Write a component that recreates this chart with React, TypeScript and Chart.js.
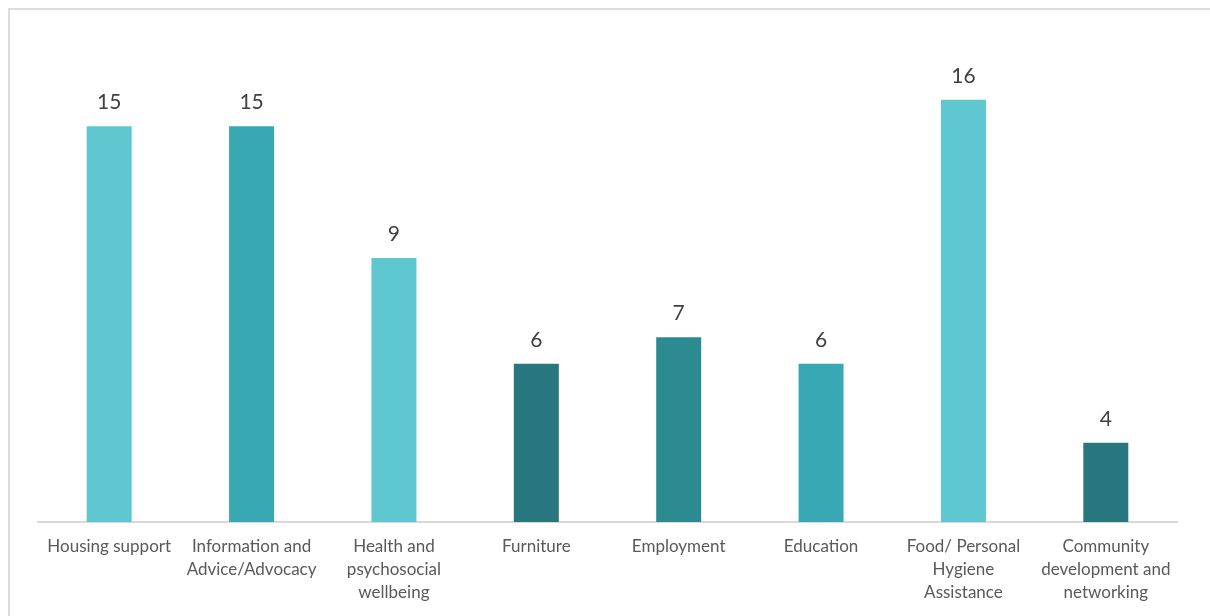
import React, { useEffect, useRef } from "react";
import { Chart, registerables } from "chart.js";

Chart.register(...registerables);

const categories: string[][] = [
  ["Housing support"],
  ["Information and", "Advice/Advocacy"],
  ["Health and", "psychosocial", "wellbeing"],
  ["Furniture"],
  ["Employment"],
  ["Education"],
  ["Food/ Personal", "Hygiene", "Assistance"],
  ["Community", "development and", "networking"],
];
// bar heights as drawn in the reference
const values: number[] = [15, 15, 10, 6, 7, 6, 16, 3];
// value labels as printed in the reference
const valueLabelTexts: string[] = ["15", "15", "9", "6", "7", "6", "16", "4"];
const barColors: string[] = [
  "#5FC7D0",
  "#38A9B4",
  "#5FC7D0",
  "#28777E",
  "#2B8B91",
  "#38A9B4",
  "#5FC7D0",
  "#28777E",
];

const FONT = "Lato, 'Open Sans', sans-serif";

const valueLabels = {
  id: "valueLabels",
  afterDatasetsDraw(chart: any) {
    const ctx = chart.ctx;
    const meta = chart.getDatasetMeta(0);
    ctx.save();
    ctx.fillStyle = "#404040";
    ctx.font = `21px ${FONT}`;
    ctx.textAlign = "center";
    ctx.textBaseline = "alphabetic";
    meta.data.forEach((bar: any, i: number) => {
      ctx.fillText(valueLabelTexts[i], bar.x, bar.y - 17);
    });
    ctx.restore();
  },
};

export default function App() {
  const ref = useRef<HTMLCanvasElement>(null);
  useEffect(() => {
    if (!ref.current) return;
    const chart = new Chart(ref.current, {
      type: "bar",
      data: {
        labels: categories,
        datasets: [
          {
            data: values,
            backgroundColor: barColors,
            borderWidth: 0,
            barPercentage: 0.316,
            categoryPercentage: 1,
          },
        ],
      },
      options: {
        animation: false,
        responsive: true,
        maintainAspectRatio: false,
        layout: { padding: { left: 38, right: 33, top: 47, bottom: 0 } },
        plugins: { legend: { display: false }, tooltip: { enabled: false } },
        scales: {
          x: {
            grid: { display: false, drawTicks: false },
            border: { display: true, color: "#D9D9D9", width: 2 },
            ticks: {
              color: "#595959",
              font: { family: FONT, size: 17, lineHeight: 1.36 },
              padding: 13,
              maxRotation: 0,
              autoSkip: false,
            },
            afterFit: (scale: any) => {
              scale.height = 94;
            },
          },
          y: {
            display: false,
            min: 0,
            max: 18,
          },
        },
      },
      plugins: [valueLabels],
    });
    return () => chart.destroy();
  }, []);

  return (
    <div style={{ position: "absolute", left: 0, top: 0, width: 1210, height: 616, overflow: "hidden", background: "#fff" }}>
      <div
        style={{
          position: "absolute",
          left: 8,
          top: 8,
          width: 1230,
          height: 640,
          border: "2px solid #DCDCDC",
          boxSizing: "border-box",
        }}
      />
      <div style={{ position: "absolute", left: 0, top: 0, width: 1210, height: 616 }}>
        <canvas ref={ref} />
      </div>
    </div>
  );
}
